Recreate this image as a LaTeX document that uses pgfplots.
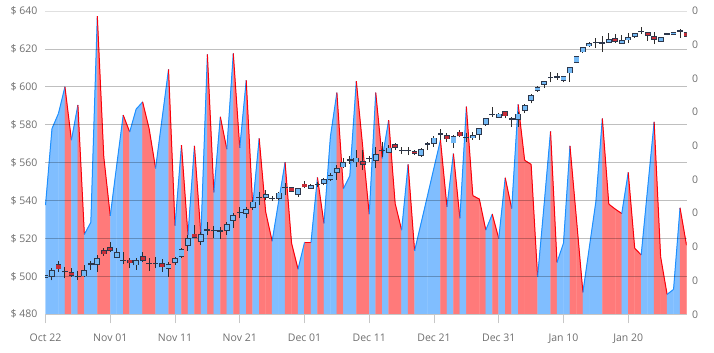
\documentclass[border=0pt]{standalone}
\usepackage{pgfplots}
\pgfplotsset{compat=1.18}
\usepackage{pgfplotstable}
\usepackage{fontspec}
\setmainfont{Open Sans}

\definecolor{upfill}{RGB}{128,190,255}
\definecolor{dnfill}{RGB}{255,122,122}
\definecolor{upline}{RGB}{30,144,255}
\definecolor{dnline}{RGB}{250,0,10}
\definecolor{upbody}{RGB}{115,185,245}
\definecolor{dnbody}{RGB}{200,45,55}
\definecolor{cout}{RGB}{45,55,75}
\definecolor{wick}{RGB}{45,45,45}
\definecolor{labelgray}{RGB}{110,110,110}

% volume (right axis units)
\pgfplotstableread{
d v
0 32.4
1 55.1
2 59.6
3 67.5
4 51.7
5 62.1
6 23.7
7 27.3
8 88.5
9 46.7
10 29.2
11 44.3
12 59.1
13 54.1
14 60.9
15 63.0
16 55.1
17 43.3
18 58.0
19 72.7
20 26.3
21 50.2
22 23.5
23 50.0
24 23.5
25 77.1
26 36.2
27 58.6
28 49.0
29 77.4
30 49.4
31 69.4
32 32.1
33 52.2
34 30.4
35 21.7
36 33.4
37 45.1
38 21.1
39 13.4
40 21.3
41 21.3
42 40.6
43 27.0
44 52.7
45 65.8
46 37.2
47 41.1
48 69.2
49 49.5
50 29.7
51 65.8
52 46.3
53 57.6
54 32.9
55 25.0
56 44.5
57 18.8
58 27.0
59 35.2
60 43.5
61 51.7
62 31.9
63 47.7
64 28.5
65 61.6
66 35.2
67 34.2
68 25.0
69 29.7
70 22.5
71 40.5
72 31.4
73 62.3
74 45.7
75 44.5
76 11.1
77 32.4
78 54.3
79 15.4
80 21.1
81 50.0
82 28.3
83 6.5
84 20.0
85 33.4
86 58.1
87 32.7
88 31.2
89 29.9
90 42.1
91 19.6
92 17.6
93 37.4
94 57.1
95 17.1
96 5.9
97 7.4
98 31.6
99 20.5
}\volT

% rising (and unchanged) candles
\pgfplotstableread{
d o h l c
0 499.8 500.8 499.4 500.4
1 500.1 504.2 497.9 503.0
3 502.5 504.8 499.0 502.5
5 499.9 503.0 498.1 499.9
6 500.4 506.0 499.7 503.0
7 506.4 508.1 503.4 506.4
8 506.4 511.3 502.5 509.2
11 510.2 515.2 509.5 512.3
12 508.5 512.7 506.4 508.5
14 506.2 509.5 503.4 508.3
16 506.9 509.5 502.9 506.9
17 506.9 510.0 504.3 506.9
19 504.3 507.8 499.9 506.0
20 507.4 510.4 506.0 509.2
21 510.8 515.2 509.5 513.9
22 516.6 521.8 513.4 519.6
24 518.7 523.6 516.6 521.8
25 524.5 528.9 521.8 524.5
26 524.1 526.8 520.1 524.1
27 524.0 526.2 519.6 524.0
28 524.5 528.9 521.8 527.1
29 529.8 533.3 525.7 532.0
30 533.8 536.8 530.7 533.8
31 533.3 536.8 530.7 535.0
32 536.5 540.3 535.0 539.1
33 541.7 544.7 537.7 541.7
34 541.7 545.6 540.3 543.0
35 541.2 542.6 539.8 541.2
36 541.2 544.7 540.3 543.8
37 546.8 549.1 543.0 546.8
39 543.3 546.8 542.1 546.1
41 546.5 548.6 546.1 547.7
42 548.6 550.0 547.3 548.6
43 549.1 551.8 548.2 550.9
44 551.4 554.4 550.3 553.2
45 554.9 558.8 550.9 556.7
46 557.9 562.3 557.0 559.7
47 561.4 563.5 559.2 561.4
48 560.5 566.7 557.9 562.3
50 562.2 563.5 560.5 562.2
51 561.3 568.5 557.0 564.0
52 566.3 571.1 563.1 566.3
53 565.7 569.3 564.9 567.5
55 566.3 568.0 564.5 566.3
56 566.3 568.0 564.0 566.3
58 564.0 567.5 563.1 566.6
59 569.8 571.0 566.6 569.8
60 570.2 574.1 568.5 572.8
61 575.0 577.9 572.0 575.0
63 570.6 574.4 567.6 573.4
65 573.2 575.5 571.1 573.2
66 573.2 576.4 572.0 574.3
67 575.0 577.8 572.0 577.8
68 580.3 583.5 579.5 583.1
69 585.5 589.6 584.3 585.5
70 584.1 586.0 583.8 585.5
72 582.9 584.3 579.0 582.9
73 583.1 586.9 579.0 585.5
74 587.6 591.1 586.1 590.1
75 592.9 596.1 591.3 595.4
76 598.2 600.3 597.5 599.6
77 601.4 603.1 599.3 602.8
78 604.9 608.0 602.4 604.9
79 605.2 607.2 603.6 605.2
80 603.6 605.9 602.4 605.4
81 607.5 610.1 602.8 610.1
82 613.0 616.3 612.5 615.8
83 618.6 621.0 618.0 620.4
84 621.7 623.5 621.0 622.8
85 623.5 625.6 620.7 623.5
86 623.0 626.9 618.3 623.0
87 623.5 628.3 623.0 624.6
89 623.2 627.4 622.8 624.2
90 624.9 628.3 623.0 626.0
91 626.7 628.4 626.0 627.9
92 629.3 631.3 627.8 629.3
95 624.2 626.2 624.0 625.8
96 627.8 628.5 627.3 627.8
97 627.8 628.8 627.5 628.6
98 629.5 630.6 626.0 629.5
}\upT

% falling candles
\pgfplotstableread{
d o h l c
2 506.0 508.1 502.5 504.1
4 502.0 504.6 499.9 500.6
9 513.6 515.2 510.9 512.0
10 515.2 518.0 513.0 513.8
13 508.5 509.5 504.3 507.2
15 510.2 512.7 507.8 508.5
18 506.4 509.2 502.5 505.1
23 522.2 527.1 520.1 520.8
38 546.8 547.3 544.7 545.1
40 548.6 550.3 546.8 547.3
49 560.5 566.6 556.1 559.2
54 569.3 570.5 566.6 568.1
57 565.7 566.6 564.0 564.9
62 574.1 575.8 571.1 572.7
64 576.0 577.0 573.5 574.3
71 586.6 587.3 583.4 584.8
88 625.1 627.8 623.0 624.1
93 628.4 629.1 624.2 627.4
94 626.5 628.8 622.5 625.3
99 628.3 629.0 626.5 626.9
}\dnT

\pgfplotsset{
  common/.style={
    at={(0,0)}, anchor=south west, scale only axis,
    width=641.5bp, height=303.3bp,
    xmin=-0.08, xmax=99,
    tick label style={font=\fontsize{10.5bp}{12bp}\selectfont, text=labelgray},
  },
}

\begin{document}
\begin{tikzpicture}
\path[use as bounding box] (-45bp,-38.7bp) rectangle (669bp,314.3bp);

% ---------- volume area (right axis) ----------
\begin{axis}[common,
  ymin=0, ymax=90,
  hide x axis,
  axis y line*=right,
  y axis line style={draw=none},
  ytick={0,10,...,90},
  yticklabels={0,0,0,0,0,0,0,0,0,0},
  ytick style={draw=none},
  major tick length=0pt,
  yticklabel style={xshift=2bp},
]
\pgfplotsinvokeforeach{0,...,98}{%
  \pgfplotstablegetelem{#1}{v}\of\volT \edef\va{\pgfplotsretval}%
  \pgfmathtruncatemacro\nx{#1+1}%
  \pgfplotstablegetelem{\nx}{v}\of\volT \edef\vb{\pgfplotsretval}%
  \ifdim\vb pt>\va pt \def\fc{upfill}\else\def\fc{dnfill}\fi
  \edef\tmp{\noexpand\addplot[fill=\fc, draw=\fc, line width=0.3bp, forget plot]
    coordinates {(#1,\va) (\nx,\vb)} \noexpand\closedcycle;}%
  \tmp
}
\pgfplotsinvokeforeach{0,...,98}{%
  \pgfplotstablegetelem{#1}{v}\of\volT \edef\va{\pgfplotsretval}%
  \pgfmathtruncatemacro\nx{#1+1}%
  \pgfplotstablegetelem{\nx}{v}\of\volT \edef\vb{\pgfplotsretval}%
  \ifdim\vb pt>\va pt \def\lc{upline}\else\def\lc{dnline}\fi
  \edef\tmp{\noexpand\addplot[draw=\lc, line width=1bp, forget plot]
    coordinates {(#1,\va) (\nx,\vb)};}%
  \tmp
}
\end{axis}

% ---------- price axis with candles ----------
\begin{axis}[common,
  ymin=480, ymax=640,
  axis x line*=bottom, axis y line*=left,
  x axis line style={-, draw=black!22},
  y axis line style={draw=none},
  xtick={0,10,...,90},
  xticklabels={Oct 22, Nov 01, Nov 11, Nov 21, Dec 01, Dec 11, Dec 21, Dec 31, Jan 10, Jan 20},
  xtick style={draw=black!22, line width=0.8bp},
  xticklabel style={yshift=-7bp},
  yticklabel style={xshift=5bp},
  tick align=outside,
  major tick length=9bp,
  ytick={480,500,...,620},
  yticklabels={\$ 480,\$ 500,\$ 520,\$ 540,\$ 560,\$ 580,\$ 600,\$ 620},
  ytick style={draw=none},
  ymajorgrids,
  major grid style={draw=black, opacity=0.25, line width=0.8bp},
  extra y ticks={640},
  extra y tick labels={\$ 640},
  extra y tick style={grid=major, major grid style={draw=black, opacity=0.12, line width=0.8bp}},
]
% wicks
\addplot[draw=none, forget plot, error bars/.cd, y dir=plus, y explicit, error mark=none,
  error bar style={draw=wick, line width=1bp}]
  table[x=d, y=l, y error expr=\thisrow{h}-\thisrow{l}] {\upT};
\addplot[draw=none, forget plot, error bars/.cd, y dir=plus, y explicit, error mark=none,
  error bar style={draw=wick, line width=1bp}]
  table[x=d, y=l, y error expr=\thisrow{h}-\thisrow{l}] {\dnT};
% body outlines
\addplot[draw=none, forget plot, error bars/.cd, y dir=plus, y explicit, error mark=none,
  error bar style={draw=cout, line width=5.8bp}]
  table[x=d, y expr=\thisrow{o}-0.4, y error expr=\thisrow{c}-\thisrow{o}+0.8] {\upT};
\addplot[draw=none, forget plot, error bars/.cd, y dir=plus, y explicit, error mark=none,
  error bar style={draw=cout, line width=5.8bp}]
  table[x=d, y expr=\thisrow{c}-0.4, y error expr=\thisrow{o}-\thisrow{c}+0.8] {\dnT};
% body fills
\addplot[draw=none, forget plot, error bars/.cd, y dir=plus, y explicit, error mark=none,
  error bar style={draw=upbody, line width=4.2bp}]
  table[x=d, y=o, y error expr=\thisrow{c}-\thisrow{o}] {\upT};
\addplot[draw=none, forget plot, error bars/.cd, y dir=plus, y explicit, error mark=none,
  error bar style={draw=dnbody, line width=4.2bp}]
  table[x=d, y=c, y error expr=\thisrow{o}-\thisrow{c}] {\dnT};
\end{axis}
\end{tikzpicture}
\end{document}
